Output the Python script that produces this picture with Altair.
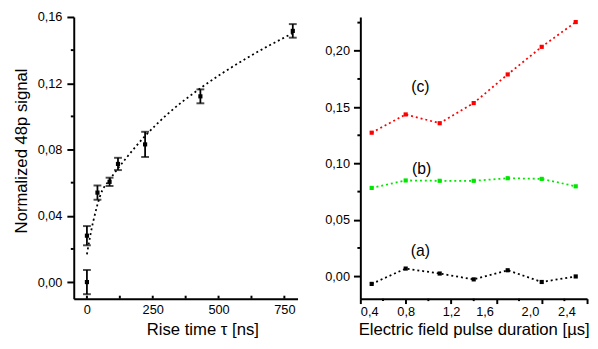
import altair as alt
import pandas as pd

# ---------------- data ----------------
# Left panel: normalized 48p signal vs rise time
rise_x = [0, 0, 40, 86, 118, 221, 431, 782]
rise_y = [0.000, 0.028, 0.054, 0.0605, 0.0713, 0.0831, 0.1121, 0.1516]
rise_err = [0.0073, 0.0058, 0.0043, 0.0025, 0.0037, 0.0076, 0.0042, 0.0041]

fit_x = [0, 12, 37, 50, 87, 100, 150, 220, 300, 431, 600, 779]
fit_y = [0.0167, 0.0275, 0.045, 0.052, 0.0619, 0.0648, 0.075, 0.088, 0.1005, 0.117, 0.1345, 0.150]

# Right panel: three series vs electric field pulse duration
dur_x = [0.5, 0.8, 1.1, 1.4, 1.7, 2.0, 2.3]
series_c = [0.1273, 0.1435, 0.1357, 0.1536, 0.1790, 0.2035, 0.2255]
series_b = [0.0783, 0.0849, 0.0846, 0.0846, 0.0869, 0.0863, 0.0797]
series_a = [-0.0069, 0.0067, 0.0023, -0.0029, 0.0052, -0.0052, -0.0003]
series_names = ["(c)", "(b)", "(a)"]
series_colors = ["#ff0000", "#00e600", "#000000"]
label_x = [0.93, 0.94, 0.93]
label_y = [0.168, 0.095, 0.022]

left_y_ticks = [0.0, 0.04, 0.08, 0.12, 0.16]
left_y_minor = [0.02, 0.06, 0.10, 0.14]
left_x_ticks = [0, 250, 500, 750]
left_x_minor = [125, 375, 625]
right_y_ticks = [0.0, 0.05, 0.10, 0.15, 0.20]
right_y_minor = [0.025, 0.075, 0.125, 0.175, 0.225]
right_x_ticks = [0.4, 0.8, 1.2, 1.6, 2.0, 2.4]
right_x_minor = [0.6, 1.0, 1.4, 1.8, 2.2]

FONT = "Liberation Sans"
W1, W2, H = 228, 231, 287

comma2 = "replace(format(datum.value, '.2f'), '.', ',')"
comma1 = "replace(format(datum.value, '.1f'), '.', ',')"

# ---------------- left panel ----------------
df_pts = pd.DataFrame({"x": rise_x, "y": rise_y, "e": rise_err})
df_pts["lo"] = df_pts["y"] - df_pts["e"]
df_pts["hi"] = df_pts["y"] + df_pts["e"]
df_fit = pd.DataFrame({"x": fit_x, "y": fit_y})

xs1 = alt.Scale(domain=[-50, 800], nice=False, zero=False)
ys1 = alt.Scale(domain=[-0.01, 0.16], nice=False, zero=False)
xax1 = alt.Axis(values=left_x_ticks, tickSize=0, labelPadding=5,
                title="Rise time τ [ns]", titleX=131, titleY=37,
                titleBaseline="alphabetic", titleAnchor="middle", titleAlign="center")
yax1 = alt.Axis(values=left_y_ticks, labelExpr=comma2, tickSize=7, labelPadding=5,
                title="Normalized 48p signal", titleX=-48, titleY=136,
                titleAngle=270, titleBaseline="alphabetic", titleAlign="center")

fit = alt.Chart(df_fit).mark_line(color="black", strokeDash=[2, 3], strokeWidth=1.8,
                                  interpolate="monotone").encode(
    x=alt.X("x:Q", scale=xs1, axis=xax1),
    y=alt.Y("y:Q", scale=ys1, axis=yax1),
)
bars = alt.Chart(df_pts).mark_rule(color="black", strokeWidth=1.8).encode(
    x=alt.X("x:Q", scale=xs1, axis=xax1),
    y=alt.Y("lo:Q", scale=ys1, axis=yax1),
    y2="hi:Q",
)
cap_lo = alt.Chart(df_pts).mark_tick(color="black", orient="horizontal", size=8, thickness=2).encode(
    x=alt.X("x:Q", scale=xs1, axis=xax1),
    y=alt.Y("lo:Q", scale=ys1, axis=yax1),
)
cap_hi = alt.Chart(df_pts).mark_tick(color="black", orient="horizontal", size=8, thickness=2).encode(
    x=alt.X("x:Q", scale=xs1, axis=xax1),
    y=alt.Y("hi:Q", scale=ys1, axis=yax1),
)
pts = alt.Chart(df_pts).mark_square(color="black", size=18, opacity=1).encode(
    x=alt.X("x:Q", scale=xs1, axis=xax1),
    y=alt.Y("y:Q", scale=ys1, axis=yax1),
)
ly_minor = alt.Chart(pd.DataFrame({"v": left_y_minor})).mark_rule(color="black", strokeWidth=2).encode(
    y=alt.Y("v:Q", scale=ys1, axis=yax1), x=alt.value(-3), x2=alt.value(0))
lx_ticks = alt.Chart(pd.DataFrame({"v": left_x_ticks + left_x_minor})).mark_rule(color="black", strokeWidth=2).encode(
    x=alt.X("v:Q", scale=xs1, axis=xax1), y=alt.value(H - 3), y2=alt.value(H))

left = alt.layer(fit, bars, cap_lo, cap_hi, pts, ly_minor, lx_ticks).properties(width=W1, height=H)

# ---------------- right panel ----------------
rows = []
for name, col, vals in zip(series_names, series_colors, [series_c, series_b, series_a]):
    for xv, yv in zip(dur_x, vals):
        rows.append({"x": xv, "y": yv, "s": name})
df_r = pd.DataFrame(rows)
df_lab = pd.DataFrame({"x": label_x, "y": label_y, "t": series_names})

xs2 = alt.Scale(domain=[0.4, 2.4], nice=False, zero=False)
ys2 = alt.Scale(domain=[-0.02, 0.23], nice=False, zero=False)
cscale = alt.Scale(domain=series_names, range=series_colors)
xax2 = alt.Axis(values=right_x_ticks, labelExpr=comma1, tickSize=5, labelPadding=2,
                labelOffset={"condition": {"test": "datum.value >= 1.5", "value": -12}, "value": 0},
                title="Electric field pulse duration [µs]", titleY=37,
                titleBaseline="alphabetic")
yax2 = alt.Axis(values=right_y_ticks, labelExpr=comma2, tickSize=7, labelPadding=4, title=None)

rlines = alt.Chart(df_r).mark_line(strokeDash=[2, 3], strokeWidth=1.8).encode(
    x=alt.X("x:Q", scale=xs2, axis=xax2),
    y=alt.Y("y:Q", scale=ys2, axis=yax2),
    color=alt.Color("s:N", scale=cscale, legend=None),
    detail="s:N",
)
rpts = alt.Chart(df_r).mark_square(size=18, opacity=1).encode(
    x=alt.X("x:Q", scale=xs2, axis=xax2),
    y=alt.Y("y:Q", scale=ys2, axis=yax2),
    color=alt.Color("s:N", scale=cscale, legend=None),
)
rlab = alt.Chart(df_lab).mark_text(font=FONT, fontSize=16, color="black", baseline="middle").encode(
    x=alt.X("x:Q", scale=xs2, axis=xax2),
    y=alt.Y("y:Q", scale=ys2, axis=yax2),
    text="t:N",
)
ry_minor = alt.Chart(pd.DataFrame({"v": right_y_minor})).mark_rule(color="black", strokeWidth=2).encode(
    y=alt.Y("v:Q", scale=ys2, axis=yax2), x=alt.value(-3), x2=alt.value(0))
rx_minor = alt.Chart(pd.DataFrame({"v": right_x_minor})).mark_rule(color="black", strokeWidth=2).encode(
    x=alt.X("v:Q", scale=xs2, axis=xax2), y=alt.value(H), y2=alt.value(H + 2.5))

right = alt.layer(rlines, rpts, rlab, ry_minor, rx_minor).properties(width=W2, height=H)

chart = alt.hconcat(left, right, spacing=27).properties(
    padding={"left": 5, "top": 0, "right": 0, "bottom": 0}
).configure_view(strokeWidth=0).configure_axis(
    grid=False, domainColor="black", domainWidth=2, tickColor="black", tickWidth=2,
    labelFont=FONT, labelFontSize=13, labelColor="black",
    titleFont=FONT, titleFontSize=17, titleColor="black", titleFontWeight="normal",
)

chart.save("out.html", embed_options={"renderer": "svg", "actions": False})
